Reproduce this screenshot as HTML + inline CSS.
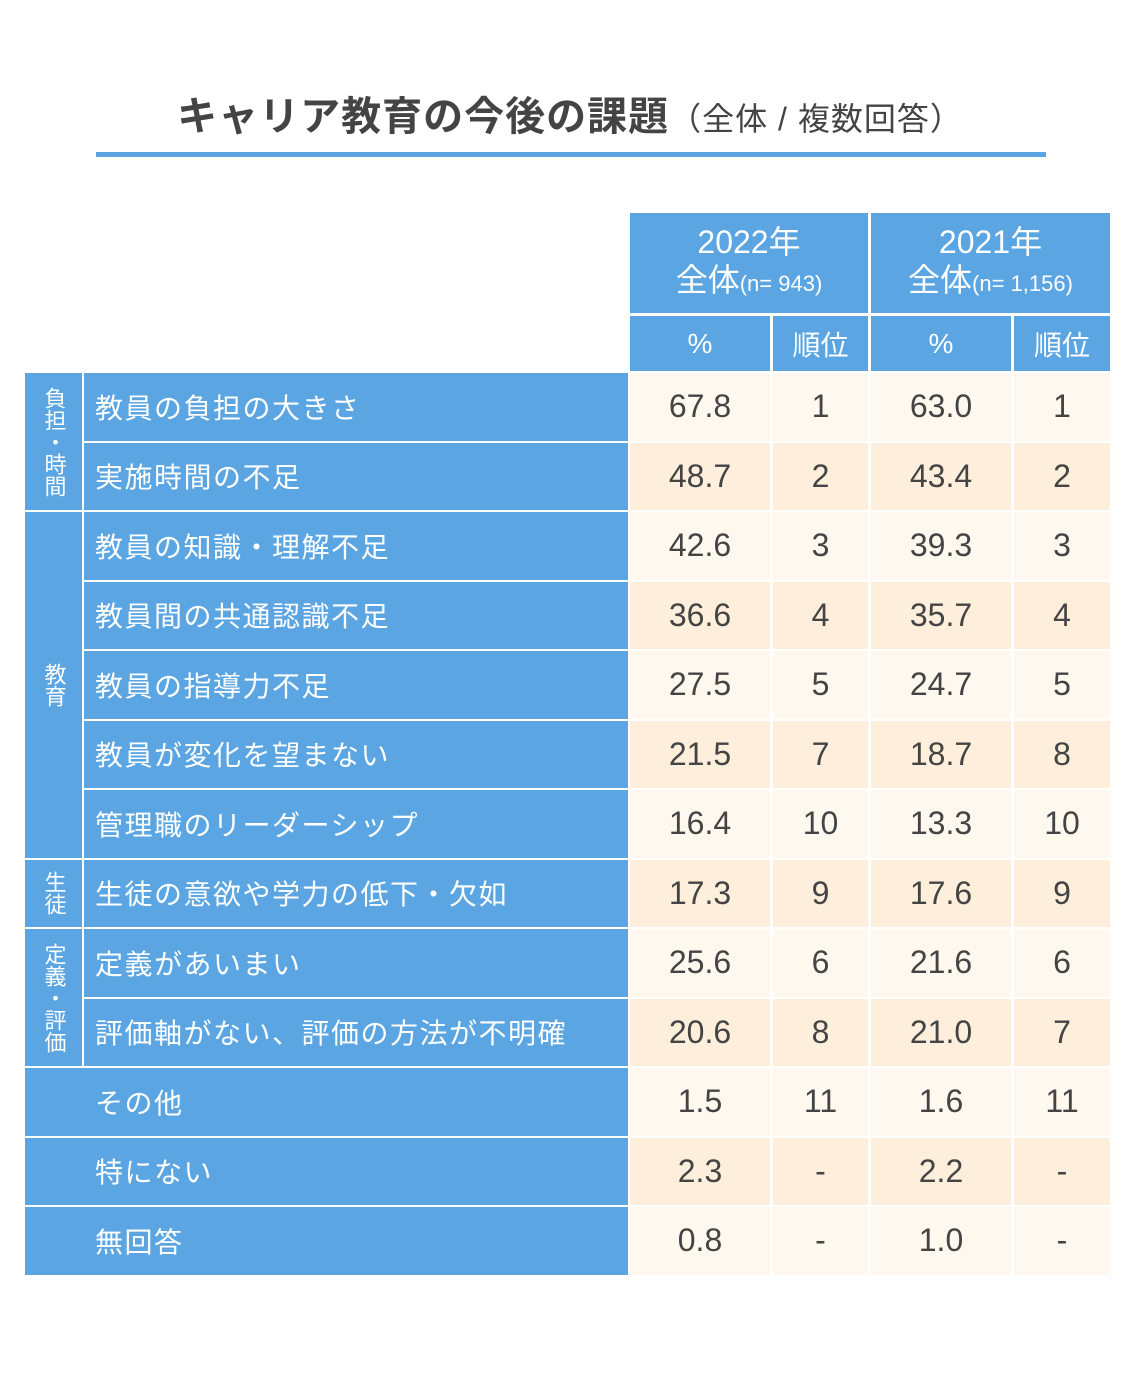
<!DOCTYPE html>
<html><head><meta charset="utf-8">
<style>
body{margin:0;width:1140px;height:1397px;background:#fff;position:relative;overflow:hidden;font-family:"Liberation Sans","Noto Sans CJK JP",sans-serif;}
.c{position:absolute;box-sizing:border-box;display:flex;align-items:center;}
.b{background:#5aa5e2;color:#fff;}
.num{justify-content:center;color:#444;font-size:32px;}
.lab{font-size:28px;letter-spacing:1.5px;padding-left:70px;}
.grp{justify-content:center;font-size:22px;line-height:26px;text-align:center;writing-mode:vertical-rl;letter-spacing:0;}
</style></head><body>
<div style="position:absolute;left:0;width:1140px;top:84px;text-align:center;font-size:40px;font-weight:bold;color:#444;letter-spacing:1px;">キャリア教育の今後の課題<span style="font-size:32px;font-weight:normal;">（全体 / 複数回答）</span></div>
<div style="position:absolute;left:96px;top:152px;width:950px;height:5px;background:#5aa5e2;"></div>
<div id="t"></div>
<script>
const labels=["教員の負担の大きさ","実施時間の不足","教員の知識・理解不足","教員間の共通認識不足","教員の指導力不足","教員が変化を望まない","管理職のリーダーシップ","生徒の意欲や学力の低下・欠如","定義があいまい","評価軸がない、評価の方法が不明確","その他","特にない","無回答"];
const pct2022=["67.8","48.7","42.6","36.6","27.5","21.5","16.4","17.3","25.6","20.6","1.5","2.3","0.8"];
const rank2022=["1","2","3","4","5","7","10","9","6","8","11","-","-"];
const pct2021=["63.0","43.4","39.3","35.7","24.7","18.7","13.3","17.6","21.6","21.0","1.6","2.2","1.0"];
const rank2021=["1","2","3","4","5","8","10","9","6","7","11","-","-"];
const groups=[["負担・時間",0,2],["教育",2,5],["生徒",7,1],["定義・評価",8,2]];
const t=document.getElementById('t');
function cell(cls,x,y,w,h,txt,bg){const d=document.createElement('div');d.className='c '+cls;d.style.left=x+'px';d.style.top=y+'px';d.style.width=w+'px';d.style.height=h+'px';if(bg)d.style.background=bg;d.innerHTML=txt;t.appendChild(d);return d;}
const top0=373,pitch=69.5,rh=67.5;
function ry(i){return top0+i*pitch;}
// headers
let h;
h=cell('b num',630,213,238,100,'<div style="text-align:center;color:#fff;font-size:32px;line-height:38px">2022年<br>全体<span style="font-size:22px">(n= 943)</span></div>');


h=cell('b num',871,213,239,100,'<div style="text-align:center;color:#fff;font-size:32px;line-height:38px">2021年<br>全体<span style="font-size:22px">(n= 1,156)</span></div>');


const subX=[[630,140,'%'],[773,95,'順位'],[871,140,'%'],[1014,96,'順位']];
subX.forEach((s,k)=>{const d=cell('b num',s[0],316,s[1],55,s[2]);d.style.color='#fff';d.style.fontSize='28px';

});
groups.forEach(g=>{const y=ry(g[1]);const hh=g[2]*pitch-2;const d=cell('b grp',25,y,57,hh,g[0]);

});
labels.forEach((l,i)=>{
 const y=ry(i);const ingrp=i<10;
 const d=cell('b lab',ingrp?84:25,y,ingrp?544:603,rh,l);
 d.style.paddingLeft=(ingrp?11:70)+'px';
 
 
 const bg=i%2===0?'#fef8ee':'#fdefdb';
 const vals=[pct2022[i],rank2022[i],pct2021[i],rank2021[i]];
 vals.forEach((v,k)=>{const c=cell('num',subX[k][0],y,subX[k][1],rh,v,bg);
 
 });
});
</script>
</body></html>
